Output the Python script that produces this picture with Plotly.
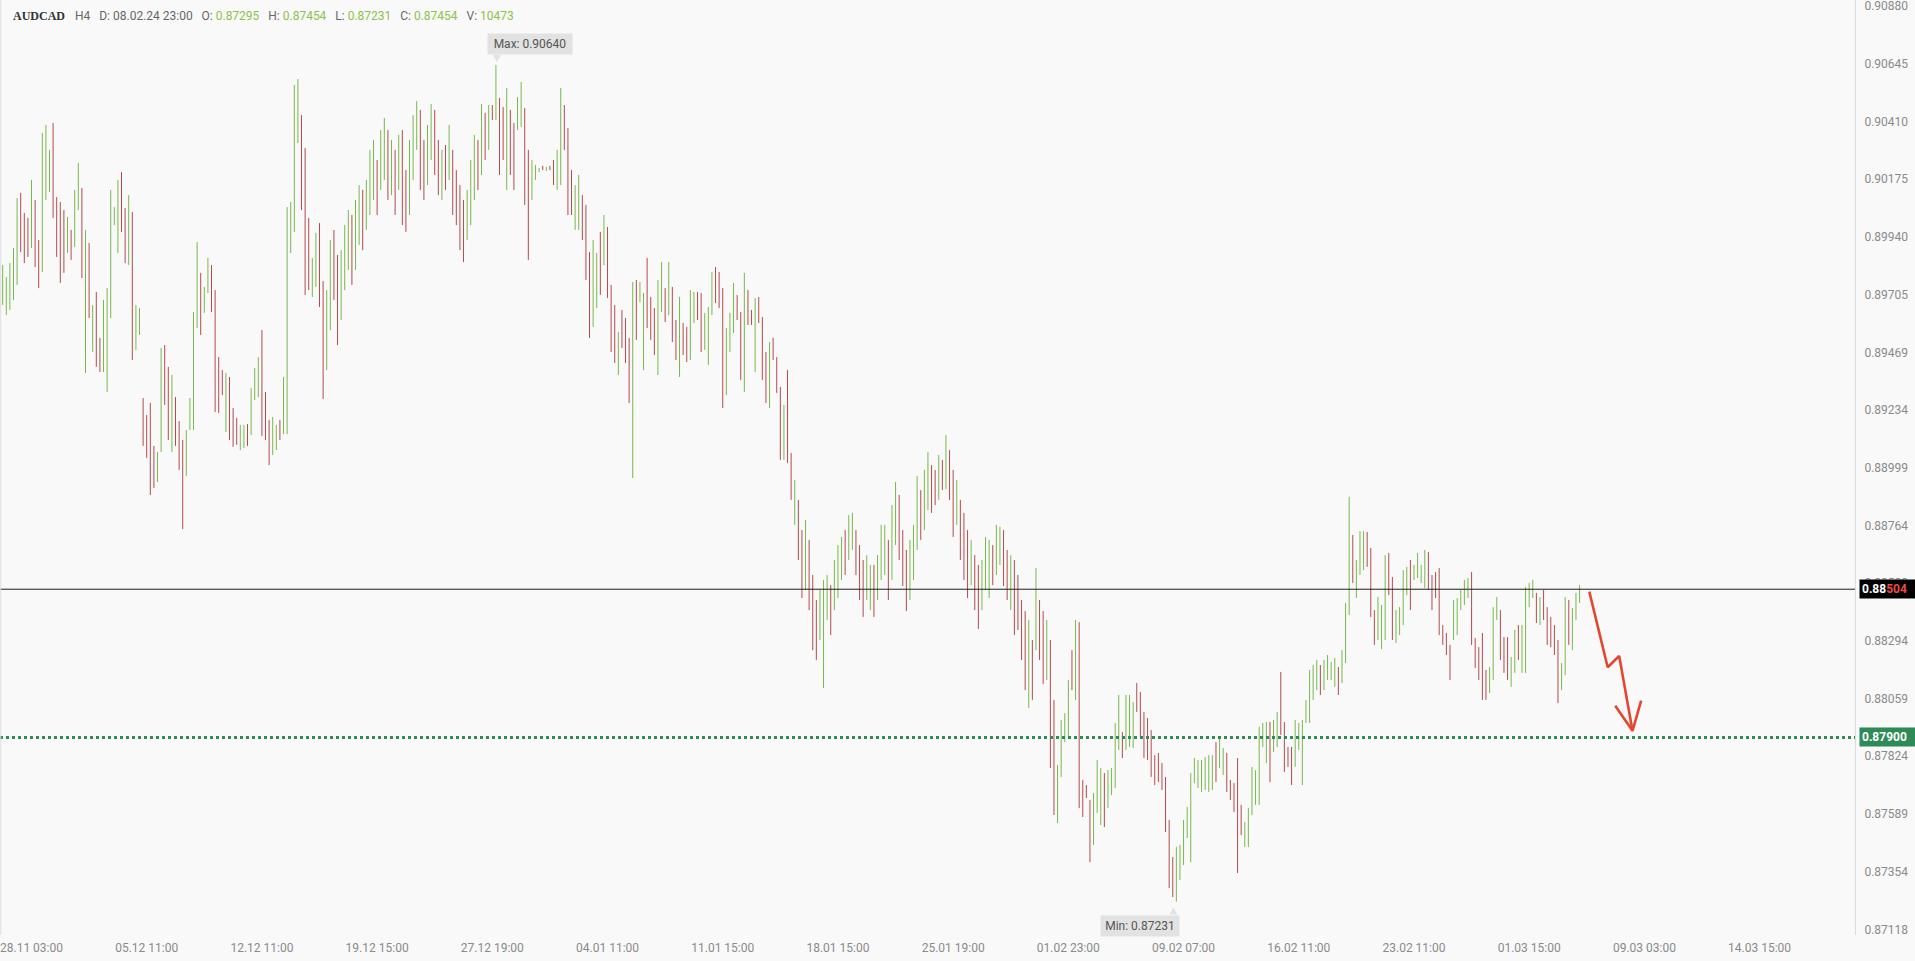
import plotly.graph_objects as go

# ---------------- data ----------------
symbol = "AUDCAD"
timeframe = "H4"
header_fields = [("D", "08.02.24 23:00", False), ("O", "0.87295", True), ("H", "0.87454", True),
                 ("L", "0.87231", True), ("C", "0.87454", True), ("V", "10473", True)]

highs = [
    0.89825, 0.89776, 0.89833, 0.89894, 0.90098, 0.90119, 0.90037, 0.90017, 0.90172, 0.90090,
    0.89927, 0.90363, 0.90396, 0.90294, 0.90404, 0.90102, 0.90082, 0.90049, 0.90021, 0.89968,
    0.90131, 0.90241, 0.90139, 0.89968, 0.89915, 0.89662, 0.89715, 0.89528, 0.89683, 0.89731,
    0.90131, 0.90061, 0.90172, 0.90204, 0.90057, 0.90110, 0.90041, 0.89662, 0.89650, 0.89283,
    0.89214, 0.89263, 0.89088, 0.89063, 0.89487, 0.89499, 0.89410, 0.89377, 0.89287, 0.89189,
    0.89112, 0.89153, 0.89283, 0.89634, 0.89919, 0.89793, 0.89736, 0.89854, 0.89825, 0.89723,
    0.89450, 0.89397, 0.89385, 0.89369, 0.89242, 0.89202, 0.89173, 0.89173, 0.89177, 0.89324,
    0.89405, 0.89450, 0.89560, 0.89308, 0.89194, 0.89206, 0.89173, 0.89194, 0.89369, 0.90061,
    0.90082, 0.90559, 0.90583, 0.90436, 0.90302, 0.90017, 0.89854, 0.89956, 0.89996, 0.89760,
    0.89723, 0.89927, 0.89968, 0.89866, 0.89886, 0.89988, 0.90049, 0.90029, 0.90090, 0.90151,
    0.90131, 0.90172, 0.90294, 0.90335, 0.90253, 0.90375, 0.90424, 0.90375, 0.90335, 0.90294,
    0.90355, 0.90375, 0.90212, 0.90335, 0.90436, 0.90493, 0.90457, 0.90335, 0.90396, 0.90481,
    0.90457, 0.90335, 0.90294, 0.90314, 0.90396, 0.90294, 0.90212, 0.90151, 0.90090, 0.90131,
    0.90253, 0.90355, 0.90335, 0.90481, 0.90445, 0.90477, 0.90477, 0.90640, 0.90506, 0.90469,
    0.90546, 0.90457, 0.90404, 0.90510, 0.90571, 0.90465, 0.90294, 0.90253, 0.90233, 0.90220,
    0.90229, 0.90225, 0.90229, 0.90253, 0.90294, 0.90546, 0.90477, 0.90383, 0.90212, 0.90151,
    0.90192, 0.90110, 0.90070, 0.89878, 0.89927, 0.89874, 0.89960, 0.90029, 0.89980, 0.89744,
    0.89662, 0.89552, 0.89642, 0.89609, 0.89528, 0.89756, 0.89764, 0.89756, 0.89711, 0.89854,
    0.89695, 0.89650, 0.89764, 0.89837, 0.89731, 0.89837, 0.89736, 0.89601, 0.89695, 0.89589,
    0.89573, 0.89723, 0.89715, 0.89715, 0.89711, 0.89630, 0.89654, 0.89797, 0.89817, 0.89797,
    0.89731, 0.89568, 0.89630, 0.89752, 0.89703, 0.89634, 0.89793, 0.89723, 0.89642, 0.89691,
    0.89695, 0.89613, 0.89471, 0.89511, 0.89528, 0.89450, 0.89328, 0.89255, 0.89397, 0.89059,
    0.88949, 0.88868, 0.88745, 0.88786, 0.88705, 0.88562, 0.88460, 0.88501, 0.88542, 0.88562,
    0.88521, 0.88623, 0.88684, 0.88717, 0.88745, 0.88806, 0.88815, 0.88745, 0.88684, 0.88623,
    0.88643, 0.88603, 0.88603, 0.88643, 0.88766, 0.88766, 0.88705, 0.88847, 0.88941, 0.88888,
    0.88745, 0.88664, 0.88705, 0.88766, 0.88965, 0.88908, 0.88990, 0.89063, 0.89010, 0.88990,
    0.89051, 0.89031, 0.89132, 0.89071, 0.88990, 0.88949, 0.88868, 0.88815, 0.88745, 0.88705,
    0.88643, 0.88603, 0.88623, 0.88717, 0.88705, 0.88684, 0.88766, 0.88758, 0.88745, 0.88664,
    0.88643, 0.88623, 0.88562, 0.88460, 0.88415, 0.88379, 0.88297, 0.88590, 0.88460, 0.88415,
    0.88379, 0.88297, 0.88053, 0.87788, 0.87971, 0.87999, 0.88134, 0.88256, 0.88379, 0.88370,
    0.87727, 0.87706, 0.87645, 0.87674, 0.87808, 0.87775, 0.87755, 0.87767, 0.87775, 0.87959,
    0.88073, 0.87922, 0.88073, 0.88073, 0.88044, 0.88122, 0.88085, 0.88004, 0.87979, 0.87930,
    0.87828, 0.87837, 0.87796, 0.87739, 0.87564, 0.87413, 0.87454, 0.87462, 0.87564, 0.87617,
    0.87755, 0.87816, 0.87808, 0.87808, 0.87820, 0.87828, 0.87828, 0.87881, 0.87898, 0.87857,
    0.87837, 0.87727, 0.87714, 0.87816, 0.87625, 0.87555, 0.87612, 0.87780, 0.87767, 0.87943,
    0.87959, 0.87963, 0.87963, 0.87971, 0.88004, 0.88167, 0.87963, 0.87861, 0.87861, 0.87971,
    0.87959, 0.87971, 0.88053, 0.88175, 0.88195, 0.88216, 0.88195, 0.88216, 0.88236, 0.88207,
    0.88224, 0.88187, 0.88256, 0.88448, 0.88880, 0.88725, 0.88623, 0.88741, 0.88741, 0.88737,
    0.88672, 0.88419, 0.88472, 0.88440, 0.88643, 0.88652, 0.88554, 0.88419, 0.88431, 0.88582,
    0.88595, 0.88623, 0.88603, 0.88652, 0.88603, 0.88664, 0.88656, 0.88562, 0.88574, 0.88590,
    0.88358, 0.88326, 0.88277, 0.88460, 0.88468, 0.88501, 0.88542, 0.88550, 0.88574, 0.88305,
    0.88268, 0.88326, 0.88175, 0.88187, 0.88431, 0.88472, 0.88419, 0.88309, 0.88309, 0.88228,
    0.88338, 0.88358, 0.88358, 0.88513, 0.88529, 0.88542, 0.88489, 0.88472, 0.88501, 0.88431,
    0.88391, 0.88358, 0.88297, 0.88203, 0.88472, 0.88460, 0.88427, 0.88489, 0.88521,
]

lows = [
    0.89662, 0.89621, 0.89642, 0.89683, 0.89744, 0.89878, 0.89833, 0.89858, 0.89894, 0.89817,
    0.89731, 0.89797, 0.90090, 0.90123, 0.90017, 0.89858, 0.89752, 0.89793, 0.89874, 0.89846,
    0.89899, 0.90049, 0.89772, 0.89385, 0.89609, 0.89471, 0.89410, 0.89389, 0.89389, 0.89308,
    0.89609, 0.89988, 0.89874, 0.89960, 0.89833, 0.89825, 0.89438, 0.89479, 0.89540, 0.89088,
    0.89039, 0.88888, 0.88916, 0.88941, 0.89063, 0.89255, 0.89112, 0.89063, 0.89088, 0.88990,
    0.88749, 0.88965, 0.89153, 0.89153, 0.89568, 0.89540, 0.89630, 0.89711, 0.89634, 0.89226,
    0.89222, 0.89295, 0.89145, 0.89112, 0.89084, 0.89092, 0.89071, 0.89079, 0.89088, 0.89132,
    0.89275, 0.89287, 0.89128, 0.89112, 0.89010, 0.89051, 0.89071, 0.89112, 0.89136, 0.89136,
    0.89874, 0.89960, 0.90322, 0.90049, 0.89703, 0.89723, 0.89695, 0.89736, 0.89654, 0.89279,
    0.89397, 0.89560, 0.89683, 0.89499, 0.89601, 0.89723, 0.89805, 0.89744, 0.89805, 0.89907,
    0.89886, 0.89968, 0.90029, 0.90090, 0.90029, 0.90131, 0.90172, 0.90090, 0.90110, 0.90029,
    0.90131, 0.89988, 0.89960, 0.90029, 0.90172, 0.90294, 0.90131, 0.90090, 0.90151, 0.90253,
    0.90192, 0.90110, 0.90090, 0.90131, 0.90172, 0.90029, 0.89988, 0.89886, 0.89837, 0.89927,
    0.89988, 0.90090, 0.90131, 0.90192, 0.90253, 0.90294, 0.90416, 0.90416, 0.90192, 0.90253,
    0.90131, 0.90192, 0.90131, 0.90375, 0.90388, 0.90070, 0.89846, 0.90090, 0.90172, 0.90204,
    0.90212, 0.90208, 0.90212, 0.90151, 0.90131, 0.90151, 0.90294, 0.90029, 0.90029, 0.89968,
    0.89968, 0.89927, 0.89764, 0.89528, 0.89573, 0.89650, 0.89703, 0.89825, 0.89691, 0.89471,
    0.89426, 0.89377, 0.89487, 0.89426, 0.89263, 0.88957, 0.89520, 0.89674, 0.89397, 0.89568,
    0.89520, 0.89458, 0.89377, 0.89634, 0.89593, 0.89621, 0.89511, 0.89438, 0.89369, 0.89458,
    0.89430, 0.89438, 0.89589, 0.89601, 0.89471, 0.89479, 0.89418, 0.89621, 0.89670, 0.89650,
    0.89242, 0.89295, 0.89471, 0.89548, 0.89601, 0.89357, 0.89308, 0.89581, 0.89581, 0.89389,
    0.89589, 0.89357, 0.89263, 0.89242, 0.89438, 0.89304, 0.89031, 0.89031, 0.89018, 0.88868,
    0.88766, 0.88623, 0.88468, 0.88501, 0.88419, 0.88256, 0.88216, 0.88297, 0.88101, 0.88379,
    0.88317, 0.88419, 0.88468, 0.88542, 0.88562, 0.88623, 0.88664, 0.88562, 0.88460, 0.88391,
    0.88460, 0.88419, 0.88391, 0.88460, 0.88542, 0.88562, 0.88460, 0.88542, 0.88684, 0.88623,
    0.88517, 0.88415, 0.88460, 0.88542, 0.88664, 0.88705, 0.88745, 0.88827, 0.88815, 0.88847,
    0.88868, 0.88908, 0.88912, 0.88868, 0.88717, 0.88766, 0.88623, 0.88542, 0.88468, 0.88521,
    0.88419, 0.88342, 0.88419, 0.88501, 0.88468, 0.88521, 0.88562, 0.88603, 0.88517, 0.88460,
    0.88419, 0.88317, 0.88338, 0.88216, 0.88093, 0.88020, 0.88053, 0.88256, 0.88216, 0.88118,
    0.88134, 0.87775, 0.87584, 0.87551, 0.87739, 0.87881, 0.87898, 0.88093, 0.88053, 0.87612,
    0.87576, 0.87653, 0.87392, 0.87462, 0.87592, 0.87543, 0.87535, 0.87612, 0.87665, 0.87694,
    0.87849, 0.87816, 0.87849, 0.87861, 0.87857, 0.88004, 0.87902, 0.87816, 0.87808, 0.87739,
    0.87706, 0.87718, 0.87686, 0.87515, 0.87286, 0.87250, 0.87231, 0.87319, 0.87380, 0.87490,
    0.87392, 0.87714, 0.87694, 0.87678, 0.87686, 0.87678, 0.87686, 0.87718, 0.87775, 0.87747,
    0.87678, 0.87645, 0.87596, 0.87348, 0.87502, 0.87454, 0.87454, 0.87584, 0.87625, 0.87625,
    0.87861, 0.87796, 0.87718, 0.87841, 0.87861, 0.87910, 0.87759, 0.87780, 0.87706, 0.87780,
    0.87849, 0.87706, 0.87959, 0.87959, 0.88053, 0.88093, 0.88073, 0.88093, 0.88134, 0.88134,
    0.88106, 0.88073, 0.88122, 0.88203, 0.88399, 0.88529, 0.88468, 0.88562, 0.88582, 0.88595,
    0.88391, 0.88277, 0.88297, 0.88260, 0.88297, 0.88480, 0.88297, 0.88285, 0.88317, 0.88358,
    0.88480, 0.88419, 0.88542, 0.88550, 0.88529, 0.88509, 0.88501, 0.88419, 0.88468, 0.88317,
    0.88277, 0.88236, 0.88134, 0.88297, 0.88317, 0.88419, 0.88440, 0.88468, 0.88277, 0.88183,
    0.88134, 0.88053, 0.88053, 0.88081, 0.88134, 0.88379, 0.88216, 0.88163, 0.88134, 0.88106,
    0.88163, 0.88216, 0.88163, 0.88163, 0.88431, 0.88468, 0.88366, 0.88358, 0.88379, 0.88277,
    0.88268, 0.88236, 0.88040, 0.88093, 0.88154, 0.88277, 0.88256, 0.88379, 0.88448,
]

# u = bullish (green) bar, d = bearish (red) bar
directions = (
    "uuuuudddud" "duuuddddud" "uudududduu" "uuudduduud" "ddduuddudd"
    "duuuuduudd" "dduddduudu" "uuddduuduu" "uuuddduudd" "uudduuuduu"
    "duuuduudud" "udduuudduu" "ddududdddu" "uududududd" "udduudduuu"
    "dudduudddu" "uddduududd" "duddduduud" "dduududdud" "duudduuudd"
    "duuudduddu" "dddudddudd" "udduddduuu" "duuuduuddd" "uuduuuduud"
    "dduuuduudd" "ududdudddu" "dduuuduudd" "uddddududd" "udduuuudud"
    "ddduuuduuu" "uduuuddddd" "dddddduuuu" "uuuuuuuduu" "ddddduuuuu"
    "uuduuddddu" "uuuuuuduuu" "uduuuduuud" "dduuudduuu" "uduuuudddd"
    "ddduuuuudd" "ddduuudddu" "uduuuududd" "ddduuduuu"
)

date_labels = ["28.11 03:00", "05.12 11:00", "12.12 11:00", "19.12 15:00", "27.12 19:00",
               "04.01 11:00", "11.01 15:00", "18.01 15:00", "25.01 19:00", "01.02 23:00",
               "09.02 07:00", "16.02 11:00", "23.02 11:00", "01.03 15:00", "09.03 03:00",
               "14.03 15:00"]
price_ticks = [0.90880, 0.90645, 0.90410, 0.90175, 0.89940, 0.89705, 0.89469, 0.89234,
               0.88999, 0.88764, 0.88529, 0.88294, 0.88059, 0.87824, 0.87589, 0.87354, 0.87118]

last_price = 0.88504
target_price = 0.87900

# hand-drawn forecast arrow (bar position, price)
arrow_bars = [440.7, 445.8, 449.0, 452.7]
arrow_prices = [0.88494, 0.88186, 0.88232, 0.87927]
arrowhead_bars = [447.9, 452.7, 455.1]
arrowhead_prices = [0.88029, 0.87927, 0.88050]

# ---------------- styling ----------------
UP = "#78b84a"
DOWN = "#b44a4e"
BG = "#f9f9f9"
AXIS_TXT = "#8a8a8a"
FONT = "Roboto"
NB = "\u00a0"

n = len(highs)
assert len(lows) == n and len(directions) == n, (len(highs), len(lows), len(directions))

xu, yu, xd, yd = [], [], [], []
for i, (h, l, d) in enumerate(zip(highs, lows, directions)):
    if d == "u":
        xu += [i, i, None]
        yu += [l, h, None]
    else:
        xd += [i, i, None]
        yd += [l, h, None]

fig = go.Figure()
fig.add_trace(go.Scatter(x=xu, y=yu, mode="lines", line=dict(color=UP, width=1),
                         hoverinfo="skip", showlegend=False))
fig.add_trace(go.Scatter(x=xd, y=yd, mode="lines", line=dict(color=DOWN, width=1),
                         hoverinfo="skip", showlegend=False))

# forecast arrow
fig.add_trace(go.Scatter(x=arrow_bars, y=arrow_prices, mode="lines",
                         line=dict(color="#e2482f", width=2.6), hoverinfo="skip", showlegend=False))
fig.add_trace(go.Scatter(x=arrowhead_bars, y=arrowhead_prices, mode="lines",
                         line=dict(color="#e2482f", width=2.6), hoverinfo="skip", showlegend=False))

imax = max(range(n), key=lambda k: highs[k])
imin = min(range(n), key=lambda k: lows[k])

shapes = [
    dict(type="line", xref="paper", yref="y", x0=0, x1=1, y0=last_price, y1=last_price,
         line=dict(color="#1e1e1e", width=1)),
    dict(type="line", xref="paper", yref="y", x0=0, x1=1, y0=target_price, y1=target_price,
         line=dict(color="#2e8a57", width=3, dash="dot")),
    dict(type="line", xref="paper", yref="paper", x0=0.0004, x1=0.0004, y0=0, y1=1,
         line=dict(color="#dedede", width=1)),
    # pointer triangles of max / min tags
    dict(type="path", xref="x", yref="y", xsizemode="pixel", ysizemode="pixel",
         xanchor=imax, yanchor=highs[imax], path="M -3,10 L 5,10 L 1,3 Z",
         fillcolor="#e2e2e2", line=dict(width=0)),
    dict(type="path", xref="x", yref="y", xsizemode="pixel", ysizemode="pixel",
         xanchor=imin, yanchor=lows[imin], path="M -7,-13 L 1,-13 L -3,-6 Z",
         fillcolor="#e2e2e2", line=dict(width=0)),
]

annotations = [
    dict(xref="paper", yref="paper", x=11 / 1855, y=1 - 16 / 935, xanchor="left", yanchor="middle",
         text=f"<b>{symbol}</b>", showarrow=False,
         font=dict(family="Liberation Serif", size=12, color="#333333")),
]
parts = [timeframe]
for key, val, green in header_fields:
    if green:
        parts.append(f"{key}:{NB}<span style='color:#8bc34a'>{val}</span>")
    else:
        parts.append(f"{key}:{NB}{val}")
annotations.append(dict(xref="paper", yref="paper", x=73 / 1855, y=1 - 16 / 935, xanchor="left",
                        yanchor="middle", text=(NB * 3).join(parts), showarrow=False,
                        font=dict(family=FONT, size=12, color="#666666")))

# max / min tags
annotations.append(dict(x=imax, y=highs[imax], xref="x", yref="y", xanchor="left", yanchor="bottom",
                        xshift=-9, yshift=10, text=f"Max: {highs[imax]:.5f}", showarrow=False,
                        bgcolor="#e2e2e2", borderpad=3, width=78,
                        font=dict(family=FONT, size=12, color="#555555")))
annotations.append(dict(x=imin, y=lows[imin], xref="x", yref="y", xanchor="right", yanchor="top",
                        xshift=4, yshift=-13, text=f"Min: {lows[imin]:.5f}", showarrow=False,
                        bgcolor="#e2e2e2", borderpad=3, width=72,
                        font=dict(family=FONT, size=12, color="#555555")))

# price tags on the right axis (they cover the axis label underneath, as in the platform)
lp = f"{last_price:.5f}"
annotations.append(dict(xref="paper", yref="y", x=1859 / 1855, y=last_price, xanchor="left",
                        yanchor="middle", showarrow=False, bgcolor="#000000", borderpad=2, width=52,
                        align="left",
                        text=f"<b>{lp[:4]}<span style='color:#f0474b'>{lp[4:]}</span></b>",
                        font=dict(family=FONT, size=12, color="#ffffff")))
annotations.append(dict(xref="paper", yref="y", x=1859 / 1855, y=target_price, xanchor="left",
                        yanchor="middle", showarrow=False, bgcolor="#2e8a57", borderpad=2, width=52,
                        align="left", text=f"<b>{target_price:.5f}</b>",
                        font=dict(family=FONT, size=12, color="#ffffff")))

fig.update_layout(
    width=1915, height=961,
    margin=dict(l=0, r=60, t=0, b=26),
    paper_bgcolor=BG, plot_bgcolor=BG,
    showlegend=False, dragmode=False, hovermode=False,
    shapes=shapes, annotations=annotations,
    font=dict(family=FONT),
    xaxis=dict(range=[-0.75, 514.5], showgrid=False, zeroline=False, showline=False,
               tickmode="array", tickvals=[8 + 32 * k for k in range(len(date_labels))],
               ticktext=date_labels, ticks="outside", ticklen=2, tickcolor="rgba(0,0,0,0)",
               ticklabeloverflow="allow",
               tickfont=dict(family=FONT, size=12, color=AXIS_TXT)),
    yaxis=dict(range=[0.87095, 0.90905], side="right", showgrid=False, zeroline=False,
               showline=True, linecolor="#dcdcdc", linewidth=1,
               tickmode="array", tickvals=price_ticks, ticktext=[f"{p:.5f}" for p in price_ticks],
               ticks="outside", ticklen=6, tickcolor="rgba(0,0,0,0)",
               ticklabeloverflow="allow",
               tickfont=dict(family=FONT, size=12, color=AXIS_TXT)),
)

fig.write_html("out.html", include_plotlyjs=True, config={"displayModeBar": False, "staticPlot": True},
               post_script="document.body.style.margin='0';document.body.style.overflow='hidden';")
